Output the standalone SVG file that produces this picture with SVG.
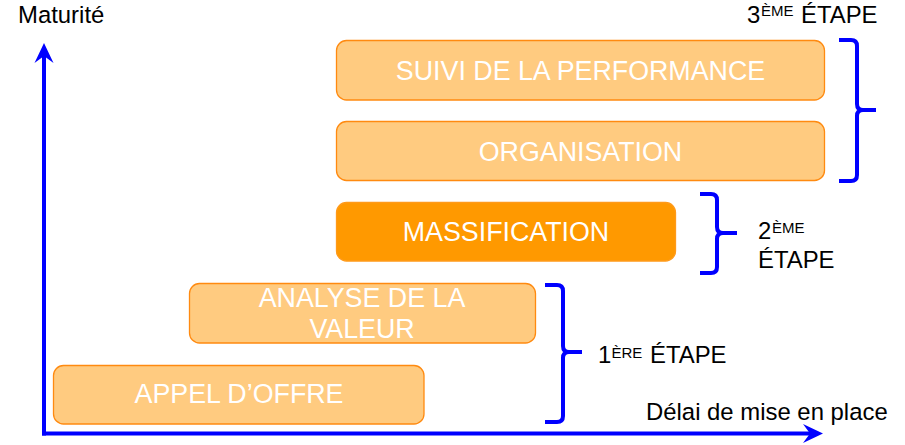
<svg xmlns="http://www.w3.org/2000/svg" width="905" height="445" viewBox="0 0 905 445">
<style>
.box{fill:#FFCB80;stroke:#FF8A10;stroke-width:1.3}
.boxd{fill:#FF9900;stroke:#FF9A1A;stroke-width:1.3}
.bt{font-family:"Liberation Sans",Arial,sans-serif;font-size:26.8px;fill:#FFFFFF;text-anchor:middle}
.lab{font-family:"Liberation Sans",Arial,sans-serif;font-size:23.9px;fill:#000000}
.sup{font-size:15px}
.axis{stroke:#0000FF;stroke-width:4;fill:none}
.brace{stroke:#0000FF;stroke-width:4;fill:none;stroke-linejoin:round}
</style>
<defs>
<marker id="arr" viewBox="-22 -11 24 22" refX="-11" refY="0" markerWidth="24" markerHeight="22" markerUnits="userSpaceOnUse" orient="auto" overflow="visible">
<path d="M0,0 L-20,-9.5 L-13,0 L-20,9.5 Z" fill="#0000FF"/>
</marker>
</defs>
<rect width="905" height="445" fill="#FFFFFF"/>
<g id="connectors">
<line class="axis" x1="44" y1="435.5" x2="44" y2="54" marker-end="url(#arr)"/>
<line class="axis" x1="42" y1="433.5" x2="812" y2="433.5" marker-end="url(#arr)"/>
<path class="brace" d="M839,40 L851,40 Q857,40 857,46 L857,104 Q857,110 863,110 L876,110 M863,110 Q857,110 857,116 L857,175 Q857,181 851,181 L839,181"/>
<path class="brace" d="M700,194 L711,194 Q717,194 717,200 L717,227 Q717,233 723,233 L737,233 M723,233 Q717,233 717,239 L717,267 Q717,273 711,273 L700,273"/>
<path class="brace" d="M545,285 L557,285 Q563,285 563,291 L563,346 Q563,352 569,352 L582,352 M569,352 Q563,352 563,358 L563,416 Q563,422 557,422 L545,422"/>
</g>
<g id="suivi">
<rect class="box" x="336.5" y="40.5" width="488" height="59.5" rx="10"/>
<text class="bt" x="580.5" y="79.5">SUIVI DE LA PERFORMANCE</text>
</g>
<g id="organisation">
<rect class="box" x="336.5" y="121.5" width="488" height="59" rx="10"/>
<text class="bt" x="580.5" y="160.5">ORGANISATION</text>
</g>
<g id="massification">
<rect class="boxd" x="336.5" y="202.5" width="339" height="58.5" rx="10"/>
<text class="bt" x="506" y="241">MASSIFICATION</text>
</g>
<g id="analyse">
<rect class="box" x="189.5" y="283.5" width="346" height="59.5" rx="10"/>
<text class="bt" x="362" y="306.5">ANALYSE DE LA</text>
<text class="bt" x="362" y="338">VALEUR</text>
</g>
<g id="appel">
<rect class="box" x="53.5" y="365.5" width="370.5" height="58.5" rx="10"/>
<text class="bt" x="239" y="403">APPEL D’OFFRE</text>
</g>
<g id="labels">
<text class="lab" x="18" y="23">Maturité</text>
<text class="lab" x="646" y="420">Délai de mise en place</text>
<text class="lab" x="747" y="23">3<tspan class="sup" x="761" y="15.5">ÈME</tspan><tspan x="801" y="23">ÉTAPE</tspan></text>
<text class="lab" x="758" y="239">2<tspan class="sup" x="772" y="233">ÈME</tspan></text>
<text class="lab" x="758" y="268">ÉTAPE</text>
<text class="lab" x="598" y="363">1<tspan class="sup" x="611.5" y="358">ÈRE</tspan><tspan x="650" y="363">ÉTAPE</tspan></text>
</g>
</svg>
